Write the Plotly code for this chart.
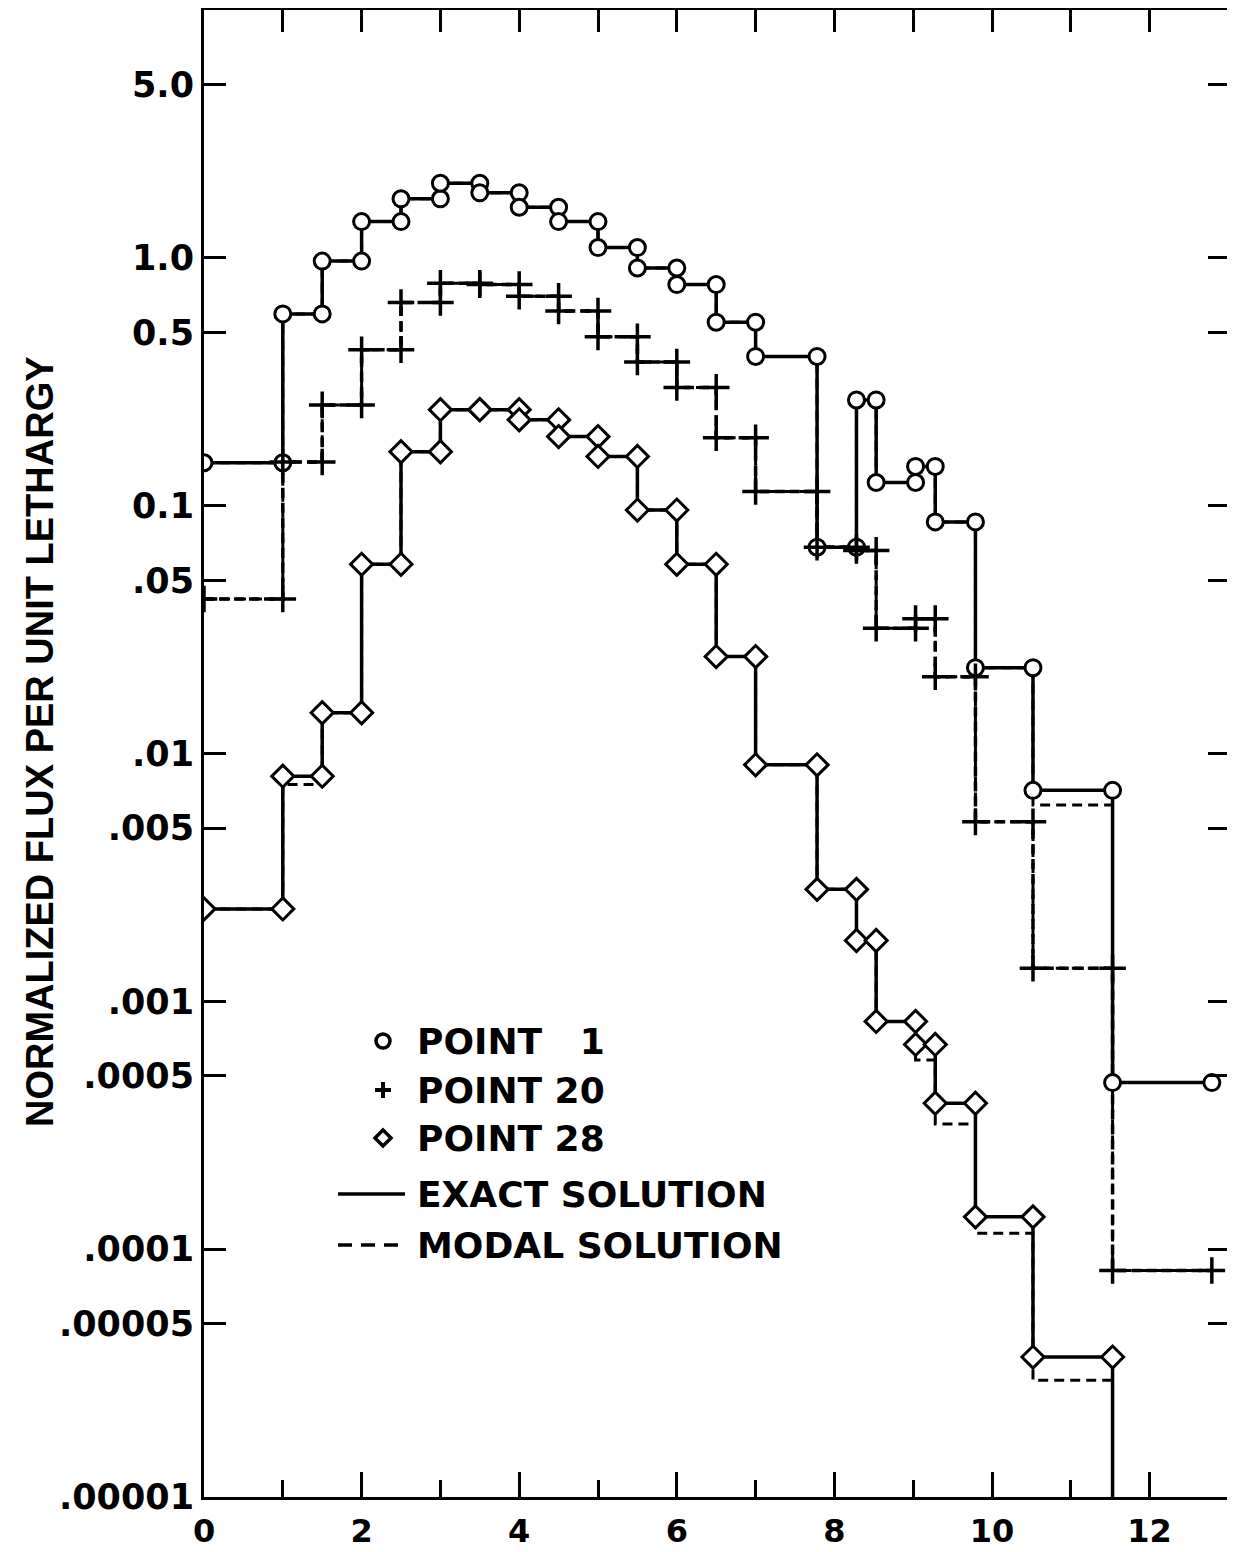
import plotly.graph_objects as go

# ---------------- data ----------------
# lethargy group boundaries
boundaries = [0, 1.0, 1.5, 2.0, 2.5, 3.0, 3.5, 4.0, 4.5, 5.0, 5.5, 6.0, 6.5, 7.0,
              7.78, 8.28, 8.53, 9.03, 9.28, 9.79, 10.52, 11.53, 12.79]

p1_exact = [0.149, 0.594, 0.97, 1.40, 1.73, 2.0, 1.83, 1.60, 1.40, 1.10, 0.91,
            0.78, 0.55, 0.40, 0.068, 0.267, 0.124, 0.144, 0.086, 0.0222, 0.0071, 0.00047]
p1_modal = [0.149, 0.594, 0.97, 1.40, 1.73, 2.0, 1.83, 1.60, 1.40, 1.10, 0.91,
            0.78, 0.55, 0.40, 0.068, 0.267, 0.124, 0.144, 0.086, 0.0222, 0.0062, 0.00047]

p20_exact = [0.042, 0.15, 0.255, 0.426, 0.66, 0.79, 0.78, 0.70, 0.61, 0.48, 0.38,
             0.30, 0.188, 0.114, 0.068, 0.066, 0.032, 0.035, 0.0204, 0.0053, 0.00136, 8.2e-5]
p20_modal = list(p20_exact)

p28_exact = [0.00236, 0.0081, 0.0146, 0.058, 0.165, 0.244, 0.244, 0.222, 0.19, 0.158,
             0.096, 0.058, 0.0246, 0.0090, 0.00283, 0.00176, 0.00083, 0.00067,
             0.000388, 0.000135, 3.67e-5, 4e-6]
p28_modal = [0.00236, 0.0075, 0.0146, 0.058, 0.165, 0.244, 0.244, 0.222, 0.19, 0.158,
             0.096, 0.058, 0.0246, 0.0090, 0.00283, 0.00176, 0.00083, 0.00058,
             0.00032, 0.000116, 2.96e-5, 4e-6]

y_tickvals = [5, 1, 0.5, 0.1, 0.05, 0.01, 0.005, 0.001, 0.0005, 0.0001, 0.00005, 0.00001]
y_ticktext = ["5.0", "1.0", "0.5", "0.1", ".05", ".01", ".005", ".001", ".0005",
              ".0001", ".00005", ".00001"]
x_major = [0, 2, 4, 6, 8, 10, 12]
x_minor = [1, 3, 5, 7, 9, 11]
x_top = [1, 2, 3, 4, 5, 6, 7, 8, 9, 10, 11, 12]

y_title = "NORMALIZED FLUX PER UNIT LETHARGY"
legend_rows = ["POINT   1", "POINT 20", "POINT 28", "EXACT SOLUTION", "MODAL SOLUTION"]

# ---------------- figure ----------------
W, H = 1235, 1552
OFF = 8  # page body margin: figure is drawn 8 px right/down in the page
# plot area wanted in page pixels
P_LEFT, P_RIGHT, P_TOP, P_BOTTOM = 204, 1230, 10, 1497
ML = P_LEFT - OFF
MR = W - (P_RIGHT - OFF)
MT = P_TOP - OFF
MB = H - (P_BOTTOM - OFF)
PW, PH = W - ML - MR, H - MT - MB


def px(xp):  # page pixel x -> paper
    return (xp - P_LEFT) / PW


def py(yp):  # page pixel y -> paper
    return (P_BOTTOM - yp) / PH


def step_xy(vals):
    return boundaries, list(vals) + [vals[-1]]


def marker_xy(vals):
    xs, ys = [], []
    for i, v in enumerate(vals):
        xs += [boundaries[i], boundaries[i + 1], None]
        ys += [v, v, None]
    return xs, ys


series = [
    (p1_exact, p1_modal, dict(symbol="circle", size=16, color="white",
                              line=dict(color="black", width=3)), None),
    (p20_exact, p20_modal, dict(symbol="cross-thin", size=19, color="black",
                                line=dict(color="black", width=3.5)), "10px,5px"),
    (p28_exact, p28_modal, dict(symbol="diamond", size=17, color="white",
                                line=dict(color="black", width=3)), None),
]

fig = go.Figure()

# modal (dashed) lines underneath
for ex, mo, mk, dsh in series:
    x, y = step_xy(mo)
    fig.add_trace(go.Scatter(x=x, y=y, mode="lines", line_shape="hv",
                             line=dict(color="black", width=3, dash="10px,6px"),
                             hoverinfo="skip", showlegend=False))
# exact lines
for ex, mo, mk, dsh in series:
    x, y = step_xy(ex)
    fig.add_trace(go.Scatter(x=x, y=y, mode="lines", line_shape="hv",
                             line=dict(color="black", width=3.5, dash=dsh or "solid"),
                             hoverinfo="skip", showlegend=False))
# markers on top
for ex, mo, mk, dsh in series:
    x, y = marker_xy(ex)
    fig.add_trace(go.Scatter(x=x, y=y, mode="markers", marker=mk,
                             hoverinfo="skip", showlegend=False))

# invisible trace for the top axis
fig.add_trace(go.Scatter(x=[None], y=[None], xaxis="x2", mode="markers",
                         showlegend=False, hoverinfo="skip"))

y_tick_font = dict(family="DejaVu Sans", size=35, color="black", weight="bold")
x_tick_font = dict(family="DejaVu Sans", size=32, color="black", weight="bold")
xrange_ = [0, PW / 78.8]

fig.update_layout(
    width=W, height=H,
    margin=dict(l=ML, r=MR, t=MT, b=MB, autoexpand=False),
    paper_bgcolor="white", plot_bgcolor="white",
    showlegend=False,
    xaxis=dict(range=xrange_, tickvals=x_major, ticktext=[str(v) for v in x_major],
               ticks="inside", ticklen=25, tickwidth=3, tickcolor="black",
               minor=dict(tickvals=x_minor, ticks="inside", ticklen=17, tickwidth=3,
                          tickcolor="black"),
               showline=True, linewidth=3, linecolor="black", mirror=False,
               showgrid=False, zeroline=False, tickfont=x_tick_font,
               ticklabelstandoff=4, automargin=False),
    xaxis2=dict(range=xrange_, overlaying="x", side="top", tickvals=x_top,
                ticks="inside", ticklen=22, tickwidth=3, tickcolor="black",
                showticklabels=False, showline=True, linewidth=3, linecolor="black",
                showgrid=False, zeroline=False, automargin=False),
    yaxis=dict(type="log", range=[-5, 1], tickvals=y_tickvals, ticktext=y_ticktext,
               ticks="inside", ticklen=22, tickwidth=3, tickcolor="black",
               showline=True, linewidth=3, linecolor="black", mirror="ticks",
               showgrid=False, zeroline=False, tickfont=y_tick_font,
               ticklabelstandoff=0, automargin=False),
)

# y-axis title
fig.add_annotation(text="<b>" + y_title + "</b>", xref="paper", yref="paper",
                   x=px(40), y=py(742), textangle=-90, showarrow=False,
                   xanchor="center", yanchor="middle",
                   font=dict(family="Liberation Sans", size=38, color="black"))

# legend (drawn as text and shapes)
legend_y = [1041, 1090, 1138, 1194, 1245]
for txt, yy in zip(legend_rows, legend_y):
    fig.add_annotation(text=txt, xref="paper", yref="paper", x=px(415), y=py(yy),
                       xanchor="left", yanchor="middle", showarrow=False,
                       font=dict(family="DejaVu Sans", size=36, color="black",
                                 weight="bold"))

lx = px(383)
fig.add_shape(type="circle", xref="paper", yref="paper", xsizemode="pixel",
              ysizemode="pixel", xanchor=lx, yanchor=py(legend_y[0]),
              x0=-7, x1=7, y0=-7, y1=7, line=dict(color="black", width=3.5),
              fillcolor="white")
fig.add_shape(type="path", xref="paper", yref="paper", xsizemode="pixel",
              ysizemode="pixel", xanchor=lx, yanchor=py(legend_y[1]),
              path="M-8,0 L8,0 M0,-8 L0,8", line=dict(color="black", width=4))
fig.add_shape(type="path", xref="paper", yref="paper", xsizemode="pixel",
              ysizemode="pixel", xanchor=lx, yanchor=py(legend_y[2]),
              path="M0,-8 L8,0 L0,8 L-8,0 Z", line=dict(color="black", width=3.5),
              fillcolor="white")
fig.add_shape(type="line", xref="paper", yref="paper", x0=px(338), x1=px(405),
              y0=py(legend_y[3]), y1=py(legend_y[3]), line=dict(color="black", width=3.5))
fig.add_shape(type="line", xref="paper", yref="paper", x0=px(338), x1=px(405),
              y0=py(legend_y[4]), y1=py(legend_y[4]),
              line=dict(color="black", width=3.5, dash="14px,9px"))

fig.write_html("out.html")
